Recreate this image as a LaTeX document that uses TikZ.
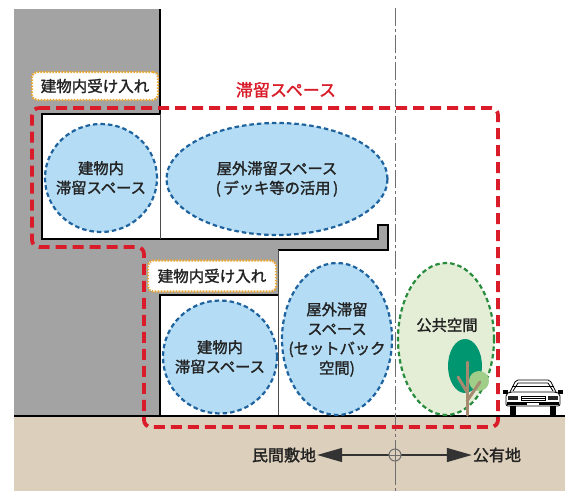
\documentclass[tikz,border=0pt]{standalone}
\usepackage{fontspec}
\setmainfont{Noto Sans CJK JP}[FakeBold=1.6]
\usetikzlibrary{arrows.meta,shapes.geometric}

\definecolor{wallgray}{RGB}{163,163,163}
\definecolor{groundbeige}{RGB}{220,207,188}
\definecolor{zonered}{RGB}{218,28,42}
\definecolor{spaceblue}{RGB}{180,221,245}
\definecolor{edgeblue}{RGB}{30,98,158}
\definecolor{publicgreen}{RGB}{228,238,214}
\definecolor{edgegreen}{RGB}{40,140,62}
\definecolor{tagorange}{RGB}{232,168,52}
\definecolor{leafdark}{RGB}{0,150,112}
\definecolor{leaflight}{RGB}{160,205,135}
\definecolor{trunkbrown}{RGB}{165,140,112}
\definecolor{axisgray}{RGB}{110,110,110}
\definecolor{inkdark}{RGB}{35,35,35}

\tikzset{
  wall/.style={draw=black,line width=1.6pt},
  thinwall/.style={draw=black!70,line width=0.9pt},
  stayzone/.style={draw=zonered,line width=3.8pt,dash pattern=on 11pt off 6pt,rounded corners=7pt},
  bluespace/.style={ellipse,draw=edgeblue,fill=spaceblue,line width=2.2pt,
    dash pattern=on 4.5pt off 3pt,inner sep=0pt},
  greenspace/.style={ellipse,draw=edgegreen,fill=publicgreen,line width=2.2pt,
    dash pattern=on 4.5pt off 3pt,inner sep=0pt},
  spacetext/.style={align=center,text=inkdark,font=\fontsize{15.3}{19.5}\selectfont,inner sep=0pt},
  intake/.style={draw=tagorange,fill=white,line width=2.2pt,dash pattern=on 1.6pt off 1.4pt,
    rounded corners=5pt,inner sep=0pt,text=inkdark,font=\fontsize{15.5}{18}\selectfont},
  centerline/.style={draw=axisgray,line width=0.9pt,dash pattern=on 18pt off 3pt on 3pt off 3pt},
  sidearrow/.style={draw=black!80,line width=1.3pt,-{Triangle[length=25pt,width=14pt]}},
  groundtext/.style={text=inkdark,font=\fontsize{16}{18}\selectfont,inner sep=1pt},
  trunk/.style={draw=trunkbrown,line width=3pt,line cap=round},
  carline/.style={draw=black,line width=0.8pt}
}

\begin{document}
\begin{tikzpicture}[x=1pt,y=-1pt]
\useasboundingbox (0,0) rectangle (571,491);
\fill[white] (0,0) rectangle (571,491);

% ground
\fill[groundbeige] (14,416) rectangle (565,491);

% building masses
\fill[wallgray] (14,9) rectangle (160,416);
\fill[wallgray] (14,239) rectangle (278,295);
\fill[wallgray] (278,239) -- (378,239) -- (378,225) -- (388,225) -- (388,250) -- (278,250) -- cycle;

% rooms
\fill[white] (42,114) rectangle (160,239);
\fill[white] (160,295) rectangle (278,416);

% walls and slabs
\draw[wall] (160,9) -- (160,114) -- (42,114) -- (42,239) -- (378,239) -- (378,225)
  -- (388,225) -- (388,250) -- (278,250);
\draw[thinwall] (160,114) -- (160,239);
\draw[wall] (278,295) -- (160,295) -- (160,416);
\draw[thinwall] (278,250) -- (278,416);
\draw[wall] (14,416) -- (565,416);

% boundary axis
\coordinate (axistop) at (395,8);
\coordinate (axisbot) at (395,491);
\draw[centerline] (axistop) -- (axisbot);

% public space and tree
\node[greenspace,minimum width=96pt,minimum height=152pt] (pub) at (446,339) {};
\node[spacetext] (pubtxt) at (447,325) {公共空間};
\coordinate (treebase) at (467,415);
\coordinate (treetop) at (467,362);
\fill[leafdark] (465,366) ellipse [x radius=17, y radius=27];
\fill[leaflight] (479,381) circle [radius=10];
\draw[trunk] (treebase) -- (treetop);
\draw[trunk] (467,392) -- (458,377);
\draw[trunk] (467,401) -- (480,382);

% stay spaces
\node[bluespace,minimum width=112pt,minimum height=108pt] (inA) at (101,178) {};
\node[spacetext] at (inA.center) {建物内\\滞留スペース};
\node[bluespace,minimum width=221pt,minimum height=112pt] (deck) at (277,179) {};
\node[spacetext] at (deck.center) {屋外滞留スペース\\(\,デッキ等の活用\,)};
\node[bluespace,minimum width=114pt,minimum height=113pt] (inB) at (220,357) {};
\node[spacetext] at (inB.center) {建物内\\滞留スペース};
\node[bluespace,minimum width=110pt,minimum height=152pt] (setback) at (337,339) {};
\node[spacetext] at ([yshift=-0.5pt]setback.center) {屋外滞留\\スペース\\(セットバック\\空間)};

% overall stay zone
\draw[stayzone] (32,108) -- (498,108) -- (498,427) -- (144,427) -- (144,247) -- (32,247) -- cycle;
\node[text=zonered,font=\fontsize{17}{19}\selectfont,inner sep=0pt] (zonelabel) at (286,90) {滞留スペース};

% intake tags
\node[intake,minimum width=126pt,minimum height=28pt] (tagA) at (95,86) {建物内受け入れ};
\node[intake,minimum width=128pt,minimum height=31pt] (tagB) at (212,276) {建物内受け入れ};

% car, front view
\begin{scope}
  \fill[white] (517,380) -- (549,380) -- (556,392) -- (510,392) -- cycle;
  \draw[carline,rounded corners=2pt] (510,392) -- (516,380) -- (550,380) -- (556,392);
  \draw[carline] (513,391) -- (518,383) -- (548,383) -- (553,391);
  \fill[white] (506,392) rectangle (560,406);
  \draw[carline,rounded corners=2pt] (506,406) -- (506,394) -- (510,392) -- (556,392) -- (560,394) -- (560,406) -- cycle;
  \fill[black] (503,390) rectangle (508,394);
  \fill[black] (558,390) rectangle (563,394);
  \fill[black!85] (508,396) rectangle (518,400);
  \fill[black!85] (548,396) rectangle (558,400);
  \draw[carline] (521,396) rectangle (545,400);
  \draw[carline,line width=0.5pt] (521,398) -- (545,398);
  \fill[black] (507,402) rectangle (559,405);
  \fill[white] (527,402.5) rectangle (539,404.5);
  \fill[black] (510,406) rectangle (516,415);
  \fill[black] (550,406) rectangle (556,415);
  \draw[carline,line width=0.5pt] (512,386) -- (554,386);
\end{scope}

% private / public land indication
\node[groundtext] (private) at (284,455) {民間敷地};
\node[groundtext] (publand) at (497,455) {公有地};
\coordinate (axismark) at (395,455);
\draw[sidearrow] (axismark) -- (private.east);
\draw[sidearrow] (axismark) -- (publand.west);
\draw[draw=axisgray,line width=1pt,fill=groundbeige] (axismark) circle [radius=6];
\draw[draw=axisgray,line width=0.9pt] (389,455) -- (401,455) (395,440) -- (395,470);
\end{tikzpicture}
\end{document}
